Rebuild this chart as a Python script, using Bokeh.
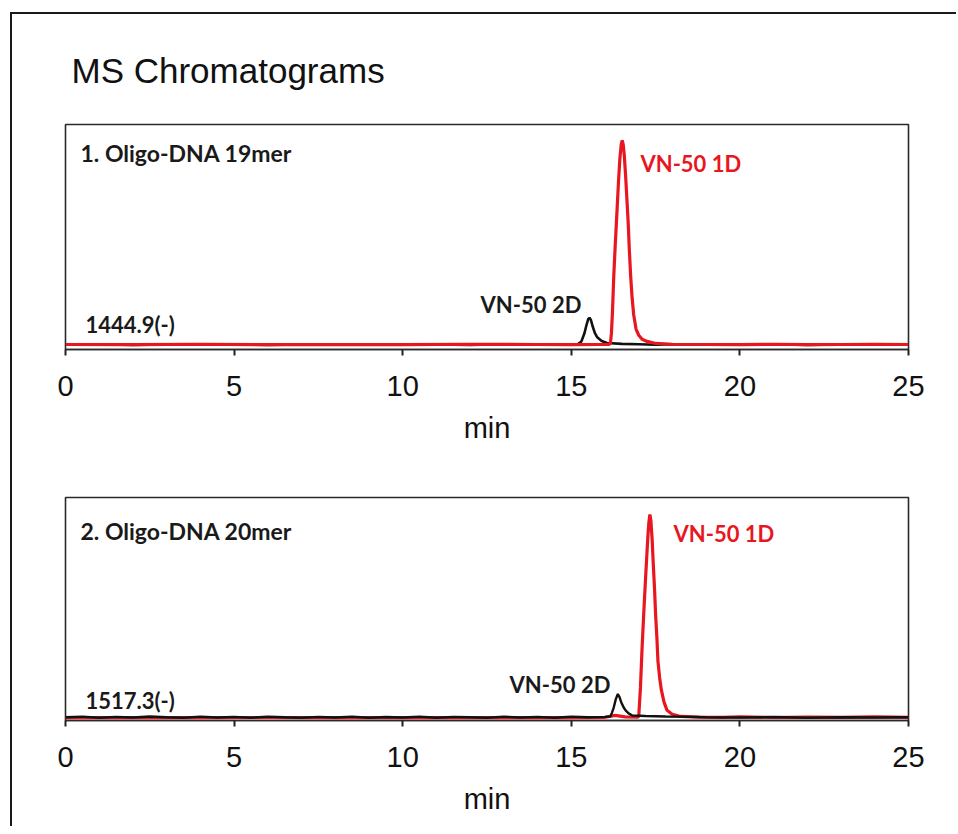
from bokeh.plotting import figure
from bokeh.layouts import column
from bokeh.models import Range1d, FixedTicker, Label
from bokeh.embed import file_html
from bokeh.resources import INLINE

# ---------------- data ----------------
tick_values = [0, 5, 10, 15, 20, 25]

# Panel 1: Oligo-DNA 19mer, m/z 1444.9(-)
p1_black_t = [0, 1, 2, 3, 4, 5, 6, 7, 8, 9, 10, 11, 12, 13, 14, 14.5, 15.0,
              15.2, 15.3, 15.39, 15.45, 15.50, 15.54, 15.58, 15.63, 15.70,
              15.77, 15.9, 16.06, 16.5, 17.0, 17.5, 18, 19, 20, 21, 22, 23,
              24, 25]
p1_black_i = [0.004, 0.006, 0.003, 0.005, 0.004, 0.006, 0.003, 0.005, 0.004,
              0.006, 0.004, 0.005, 0.003, 0.006, 0.004, 0.005, 0.006,
              0.007, 0.02, 0.06, 0.10, 0.128, 0.135, 0.125, 0.095, 0.06,
              0.04, 0.022, 0.012, 0.008, 0.006, 0.004, 0.006, 0.004, 0.005,
              0.006, 0.003, 0.005, 0.004, 0.005]
p1_red_t = [0, 2, 4, 6, 8, 10, 12, 14, 15, 15.8, 16.10, 16.16, 16.19, 16.22,
            16.26, 16.30, 16.36, 16.40, 16.44, 16.48, 16.51, 16.54, 16.57,
            16.61, 16.65, 16.69, 16.72, 16.76, 16.80, 16.85, 16.92, 17.0,
            17.1, 17.25, 17.5, 18, 19, 20, 21, 22, 23, 24, 25]
p1_red_i = [0.005, 0.004, 0.006, 0.004, 0.005, 0.004, 0.006, 0.005, 0.004,
            0.005, 0.005, 0.01, 0.06, 0.16, 0.34, 0.48, 0.67, 0.80, 0.91,
            0.98, 1.0, 0.98, 0.93, 0.83, 0.71, 0.59, 0.47, 0.34, 0.24, 0.15,
            0.08, 0.05, 0.03, 0.02, 0.01, 0.006, 0.005, 0.004, 0.006, 0.004,
            0.005, 0.006, 0.005]

# Panel 2: Oligo-DNA 20mer, m/z 1517.3(-)
p2_black_t = [0, 0.5, 1, 1.5, 2, 2.5, 3, 3.5, 4, 4.5, 5, 5.5, 6, 6.5, 7, 7.5,
              8, 8.5, 9, 9.5, 10, 10.5, 11, 11.5, 12, 12.5, 13, 13.5, 14,
              14.5, 15, 15.5, 16.0, 16.16, 16.21, 16.26, 16.32, 16.38, 16.43,
              16.48, 16.55, 16.61, 16.70, 16.81, 17.2, 17.8, 18.5, 19, 20,
              21, 22, 23, 24, 25]
p2_black_i = [0.006, 0.009, 0.004, 0.008, 0.005, 0.010, 0.006, 0.004, 0.009,
              0.005, 0.008, 0.004, 0.009, 0.006, 0.004, 0.008, 0.005, 0.009,
              0.004, 0.007, 0.005, 0.009, 0.004, 0.008, 0.006, 0.004, 0.009,
              0.005, 0.008, 0.004, 0.009, 0.006, 0.008, 0.01, 0.03, 0.055,
              0.095, 0.12, 0.105, 0.08, 0.055, 0.04, 0.025, 0.015, 0.012,
              0.01, 0.008, 0.006, 0.005, 0.007, 0.004, 0.006, 0.005, 0.006]
p2_red_t = [0, 2, 4, 6, 8, 10, 12, 14, 15, 16.0, 16.3, 16.6, 16.95, 17.0,
            17.05, 17.10, 17.15, 17.20, 17.24, 17.27, 17.30, 17.33, 17.36,
            17.40, 17.43, 17.47, 17.50, 17.54, 17.57, 17.62, 17.67, 17.75,
            17.84, 18.0, 18.24, 18.8, 19.5, 20, 21, 22, 23, 24, 25]
p2_red_i = [0.004, 0.005, 0.004, 0.005, 0.004, 0.005, 0.004, 0.005, 0.004,
            0.006, 0.015, 0.008, 0.006, 0.01, 0.15, 0.35, 0.52, 0.68, 0.80,
            0.89, 0.96, 1.0, 0.97, 0.87, 0.76, 0.63, 0.51, 0.39, 0.28, 0.20,
            0.14, 0.08, 0.04, 0.02, 0.01, 0.007, 0.006, 0.008, 0.005, 0.007,
            0.006, 0.008, 0.006]

RED = "#e8161e"
BLACK = "#111111"
AX_FONT = "Liberation Sans"
LBL_FONT = "Lato"
FIG_W = 944


def make_panel(height, top, bottom, y_lo, y_hi, title=None):
    p = figure(width=FIG_W, height=height, output_backend="svg",
               toolbar_location=None, x_range=Range1d(0, 25),
               y_range=Range1d(y_lo, y_hi),
               min_border_left=53, min_border_right=FIG_W - 53 - 843,
               min_border_top=top, min_border_bottom=bottom,
               title=title)
    p.background_fill_color = "white"
    p.border_fill_color = "white"
    p.grid.visible = False
    p.yaxis.visible = False
    p.outline_line_color = "#2a2a2a"
    p.outline_line_width = 1.6
    ax = p.xaxis[0]
    ax.ticker = FixedTicker(ticks=tick_values)
    ax.minor_tick_line_color = None
    ax.major_tick_in = 0
    ax.major_tick_out = 6
    ax.major_tick_line_width = 2
    ax.major_tick_line_color = "#222222"
    ax.axis_line_color = "#2a2a2a"
    ax.axis_line_width = 1.6
    ax.major_label_text_font = AX_FONT
    ax.major_label_text_font_size = "29px"
    ax.major_label_text_color = "#111111"
    ax.major_label_standoff = 20
    ax.axis_label = "min"
    ax.axis_label_text_font = AX_FONT
    ax.axis_label_text_font_size = "29px"
    ax.axis_label_text_font_style = "normal"
    ax.axis_label_text_color = "#111111"
    ax.axis_label_standoff = 13
    return p


def add_label(p, x, y, text, color, size="22px"):
    p.add_layout(Label(x=x, y=y, text=text, text_font=LBL_FONT,
                       text_font_size=size, text_font_style="bold",
                       text_color=color, text_baseline="middle",
                       text_align="left"))


# ---------------- panel 1 ----------------
p1 = make_panel(446, 110, 111, -0.0195, 1.078, title="MS Chromatograms")
p1.title.text_font = AX_FONT
p1.title.text_font_size = "35px"
p1.title.text_font_style = "normal"
p1.title.text_color = "#111111"
p1.title.align = "left"
p1.title.offset = 6
p1.title.standoff = 69
p1.line(p1_black_t, p1_black_i, line_color=BLACK, line_width=2.6)
p1.line(p1_red_t, p1_red_i, line_color=RED, line_width=3.2)
add_label(p1, 0.445, 0.937, "1. Oligo-DNA 19mer", "#1a1a1a", "23px")
add_label(p1, 0.59, 0.102, "1444.9(-)", "#1a1a1a")
add_label(p1, 12.31, 0.20, "VN-50 2D", "#1a1a1a")
add_label(p1, 17.05, 0.888, "VN-50 1D", RED)

# ---------------- panel 2 ----------------
p2 = make_panel(366, 37, 106, -0.0098, 1.083)
p2.line(p2_red_t, p2_red_i, line_color=RED, line_width=3.2)
p2.line(p2_black_t, p2_black_i, line_color=BLACK, line_width=2.4)
add_label(p2, 0.445, 0.917, "2. Oligo-DNA 20mer", "#1a1a1a", "23px")
add_label(p2, 0.59, 0.088, "1517.3(-)", "#1a1a1a")
add_label(p2, 13.17, 0.167, "VN-50 2D", "#1a1a1a")
add_label(p2, 18.03, 0.907, "VN-50 1D", RED)

layout = column(p1, p2, margin=(12, 0, 0, 10),
                styles={"border-style": "solid none none solid",
                        "border-width": "2px 0px 0px 2px",
                        "border-color": "#1a1a1a"})

open("out.html", "w").write(file_html(layout, INLINE))
